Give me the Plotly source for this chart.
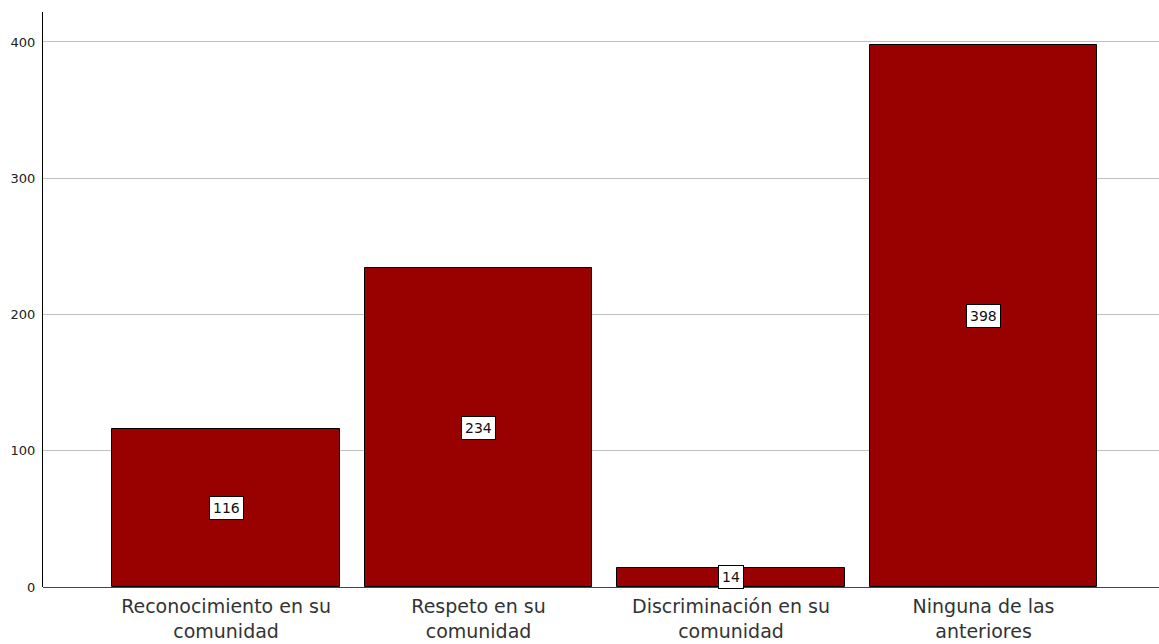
import plotly.graph_objects as go

categories = ["Reconocimiento en su<br>comunidad", "Respeto en su<br>comunidad",
              "Discriminación en su<br>comunidad", "Ninguna de las<br>anteriores"]
values = [116, 234, 14, 398]
y_ticks = [0, 100, 200, 300, 400]

x_pos = list(range(len(categories)))
FONT = "DejaVu Sans, Verdana, sans-serif"

fig = go.Figure()
fig.add_trace(go.Bar(
    x=x_pos, y=values, width=0.9,
    marker=dict(color="#990000", line=dict(color="#000000", width=1)),
    hoverinfo="skip",
))

for xi, v in zip(x_pos, values):
    fig.add_annotation(
        x=xi, y=v / 2, text=str(v), showarrow=False,
        font=dict(family=FONT, size=14, color="#111111"),
        bgcolor="#ffffff", bordercolor="#000000", borderwidth=1, borderpad=3,
    )

fig.update_layout(
    width=1159, height=644,
    margin=dict(l=43, r=0, t=12, b=57),
    paper_bgcolor="#ffffff", plot_bgcolor="#ffffff",
    showlegend=False,
    font=dict(family=FONT, color="#000000"),
    bargap=0,
)
fig.update_xaxes(
    range=[-0.725, 3.695],
    tickmode="array", tickvals=x_pos, ticktext=categories,
    tickfont=dict(family=FONT, size=19, color="#333333"),
    showline=False, showgrid=False, zeroline=False, ticks="",
    ticklabelstandoff=6,
)
fig.update_yaxes(
    range=[0, 422],
    tickmode="array", tickvals=y_ticks, ticktext=[str(t) for t in y_ticks],
    tickfont=dict(family=FONT, size=13, color="#222222"),
    showgrid=True, gridcolor="#c0c0c0", gridwidth=1,
    showline=True, linecolor="#000000", linewidth=1,
    zeroline=True, zerolinecolor="#444444", zerolinewidth=1,
    ticks="", ticklabelstandoff=4,
)

fig.write_html(
    "out.html",
    config={"displayModeBar": False},
    post_script="document.body.style.margin='0';document.body.style.overflow='hidden';",
)
